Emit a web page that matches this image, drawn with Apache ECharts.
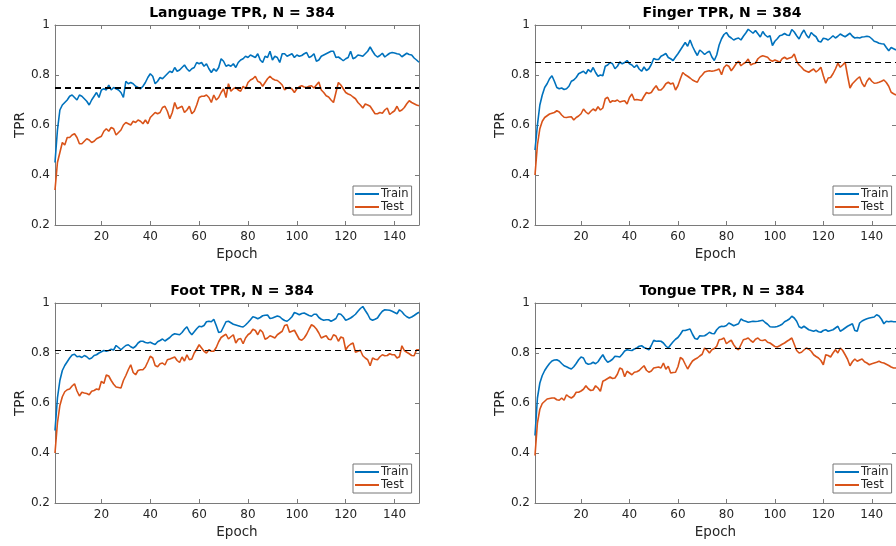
<!DOCTYPE html>
<html>
<head>
<meta charset="utf-8">
<script src="https://cdn.jsdelivr.net/npm/echarts@6/dist/echarts.min.js"></script>
<style>
  html, body { margin: 0; padding: 0; background: #fff; }
  #main { width: 896px; height: 546px; }
</style>
</head>
<body>
<div id="main"></div>
<script>
// tick labels
var xTicks = [20, 40, 60, 80, 100, 120, 140];
var yTicks = [0.2, 0.4, 0.6, 0.8, 1];
var panelNames = ['Language', 'Finger', 'Foot', 'Tongue'];
var baseline = [0.75, 0.85, 0.81, 0.82];

// TPR per epoch (1..150)
var languageTrain = [
  0.45, 0.58, 0.66, 0.68, 0.69, 0.70, 0.715, 0.72, 0.71, 0.70,
  0.72, 0.715, 0.705, 0.695, 0.68, 0.70, 0.715, 0.73, 0.71, 0.74,
  0.745, 0.74, 0.76, 0.74, 0.75, 0.745, 0.74, 0.73, 0.71, 0.775,
  0.765, 0.77, 0.765, 0.755, 0.75, 0.745, 0.755, 0.77, 0.79, 0.805,
  0.795, 0.765, 0.775, 0.79, 0.785, 0.795, 0.805, 0.815, 0.81, 0.83,
  0.815, 0.82, 0.83, 0.84, 0.825, 0.815, 0.825, 0.83, 0.85, 0.845,
  0.85, 0.835, 0.845, 0.825, 0.81, 0.825, 0.815, 0.83, 0.865, 0.855,
  0.835, 0.84, 0.835, 0.845, 0.83, 0.85, 0.86, 0.865, 0.875, 0.87,
  0.88, 0.875, 0.87, 0.885, 0.86, 0.85, 0.875, 0.87, 0.895, 0.86,
  0.875, 0.87, 0.85, 0.885, 0.885, 0.875, 0.88, 0.885, 0.87, 0.88,
  0.875, 0.878, 0.885, 0.89, 0.87, 0.875, 0.885, 0.855, 0.86, 0.875,
  0.88, 0.885, 0.89, 0.895, 0.895, 0.87, 0.872, 0.865, 0.857, 0.865,
  0.87, 0.895, 0.865, 0.87, 0.88, 0.878, 0.875, 0.885, 0.895, 0.912,
  0.895, 0.88, 0.872, 0.878, 0.887, 0.872, 0.88, 0.887, 0.89, 0.888,
  0.885, 0.883, 0.873, 0.88, 0.887, 0.882, 0.88, 0.868, 0.86, 0.851
];
var languageTest = [
  0.34, 0.45, 0.49, 0.53, 0.52, 0.55, 0.55, 0.56, 0.565, 0.55,
  0.525, 0.525, 0.535, 0.545, 0.54, 0.53, 0.535, 0.545, 0.55, 0.555,
  0.575, 0.585, 0.575, 0.59, 0.585, 0.56, 0.57, 0.58, 0.60, 0.61,
  0.605, 0.60, 0.615, 0.61, 0.62, 0.615, 0.605, 0.62, 0.605, 0.63,
  0.64, 0.65, 0.645, 0.65, 0.67, 0.675, 0.655, 0.625, 0.65, 0.69,
  0.665, 0.67, 0.675, 0.65, 0.66, 0.675, 0.645, 0.655, 0.68, 0.71,
  0.715, 0.715, 0.72, 0.71, 0.69, 0.72, 0.70, 0.71, 0.73, 0.745,
  0.71, 0.765, 0.735, 0.745, 0.75, 0.74, 0.735, 0.755, 0.745, 0.77,
  0.78, 0.785, 0.795, 0.775, 0.77, 0.755, 0.77, 0.785, 0.795, 0.785,
  0.78, 0.778, 0.77, 0.76, 0.74, 0.748, 0.75, 0.744, 0.73, 0.745,
  0.753, 0.757, 0.752, 0.75, 0.755, 0.757, 0.748, 0.76, 0.772, 0.74,
  0.73, 0.717, 0.712, 0.70, 0.69, 0.73, 0.77, 0.76, 0.745, 0.73,
  0.724, 0.72, 0.712, 0.705, 0.69, 0.68, 0.668, 0.684, 0.68, 0.675,
  0.66, 0.645, 0.645, 0.65, 0.647, 0.66, 0.668, 0.642, 0.65, 0.657,
  0.675, 0.655, 0.66, 0.67, 0.685, 0.697, 0.69, 0.685, 0.68, 0.677
];
var fingerTrain = [
  0.50, 0.60, 0.68, 0.72, 0.75, 0.765, 0.785, 0.797, 0.775, 0.75,
  0.745, 0.748, 0.742, 0.745, 0.755, 0.775, 0.78, 0.79, 0.805, 0.81,
  0.815, 0.805, 0.822, 0.812, 0.83, 0.81, 0.795, 0.80, 0.797, 0.835,
  0.84, 0.85, 0.845, 0.825, 0.835, 0.852, 0.845, 0.85, 0.858, 0.845,
  0.84, 0.83, 0.84, 0.824, 0.815, 0.832, 0.818, 0.825, 0.842, 0.866,
  0.862, 0.862, 0.875, 0.88, 0.886, 0.87, 0.865, 0.858, 0.872, 0.885,
  0.90, 0.915, 0.93, 0.915, 0.94, 0.915, 0.895, 0.878, 0.90, 0.892,
  0.882, 0.89, 0.895, 0.872, 0.858, 0.88, 0.92, 0.945, 0.962, 0.97,
  0.955, 0.948, 0.94, 0.945, 0.948, 0.94, 0.955, 0.968, 0.983, 0.975,
  0.967, 0.978, 0.965, 0.952, 0.974, 0.96, 0.952, 0.957, 0.918, 0.935,
  0.945, 0.957, 0.96, 0.966, 0.96, 0.958, 0.982, 0.972, 0.957, 0.944,
  0.965, 0.98, 0.96, 0.948, 0.97, 0.96, 0.953, 0.935, 0.932, 0.947,
  0.945, 0.94, 0.948, 0.957, 0.948, 0.955, 0.964, 0.958, 0.953, 0.96,
  0.967, 0.955, 0.948, 0.95, 0.948, 0.952, 0.953, 0.955, 0.953, 0.945,
  0.935, 0.932, 0.927, 0.925, 0.924, 0.91, 0.897, 0.91, 0.905, 0.90
];
var fingerTest = [
  0.40, 0.52, 0.585, 0.615, 0.63, 0.637, 0.644, 0.647, 0.65, 0.657,
  0.652, 0.64, 0.631, 0.63, 0.632, 0.633, 0.62, 0.63, 0.636, 0.645,
  0.664, 0.652, 0.644, 0.655, 0.664, 0.657, 0.673, 0.66, 0.668, 0.705,
  0.711, 0.69, 0.697, 0.695, 0.70, 0.692, 0.695, 0.697, 0.684, 0.71,
  0.724, 0.70, 0.702, 0.70, 0.698, 0.715, 0.73, 0.726, 0.73, 0.745,
  0.757, 0.74, 0.74, 0.75, 0.765, 0.771, 0.764, 0.768, 0.74, 0.757,
  0.785, 0.81, 0.801, 0.795, 0.788, 0.78, 0.775, 0.771, 0.79, 0.80,
  0.812, 0.815, 0.817, 0.815, 0.817, 0.82, 0.824, 0.801, 0.83, 0.84,
  0.835, 0.817, 0.83, 0.845, 0.855, 0.837, 0.845, 0.851, 0.864, 0.84,
  0.845, 0.847, 0.865, 0.873, 0.877, 0.874, 0.871, 0.86, 0.855, 0.86,
  0.856, 0.851, 0.865, 0.871, 0.864, 0.868, 0.871, 0.884, 0.855, 0.84,
  0.831, 0.82, 0.815, 0.811, 0.818, 0.824, 0.812, 0.82, 0.831, 0.797,
  0.767, 0.788, 0.79, 0.805, 0.824, 0.847, 0.831, 0.84, 0.851, 0.797,
  0.748, 0.765, 0.775, 0.785, 0.793, 0.767, 0.753, 0.775, 0.788, 0.775,
  0.767, 0.768, 0.771, 0.775, 0.78, 0.77, 0.755, 0.731, 0.725, 0.72
];
var footTrain = [
  0.49, 0.62, 0.69, 0.73, 0.75, 0.765, 0.78, 0.792, 0.795, 0.785,
  0.787, 0.782, 0.79, 0.785, 0.776, 0.78, 0.79, 0.793, 0.80, 0.805,
  0.81, 0.807, 0.81, 0.815, 0.812, 0.83, 0.822, 0.813, 0.822, 0.83,
  0.833, 0.825, 0.82, 0.827, 0.84, 0.847, 0.847, 0.842, 0.84, 0.843,
  0.838, 0.834, 0.845, 0.85, 0.856, 0.848, 0.855, 0.862, 0.872, 0.877,
  0.875, 0.873, 0.882, 0.895, 0.905, 0.885, 0.873, 0.885, 0.897, 0.907,
  0.905, 0.91, 0.925, 0.927, 0.925, 0.935, 0.91, 0.882, 0.885, 0.905,
  0.925, 0.927, 0.921, 0.915, 0.912, 0.909, 0.906, 0.904, 0.912, 0.922,
  0.933, 0.945, 0.942, 0.937, 0.942, 0.949, 0.951, 0.952, 0.938, 0.94,
  0.944, 0.948, 0.945, 0.936, 0.93, 0.927, 0.935, 0.945, 0.962, 0.958,
  0.953, 0.958, 0.96, 0.955, 0.95, 0.947, 0.955, 0.955, 0.942, 0.935,
  0.931, 0.933, 0.933, 0.927, 0.932, 0.938, 0.957, 0.955, 0.945, 0.931,
  0.935, 0.94, 0.947, 0.955, 0.967, 0.978, 0.986, 0.97, 0.955, 0.936,
  0.931, 0.935, 0.94, 0.955, 0.967, 0.973, 0.972, 0.971, 0.967, 0.962,
  0.957, 0.973, 0.965, 0.953, 0.945, 0.94, 0.944, 0.95, 0.957, 0.963
];
var footTest = [
  0.40, 0.52, 0.59, 0.625, 0.645, 0.653, 0.656, 0.668, 0.677, 0.648,
  0.628, 0.643, 0.64, 0.638, 0.633, 0.647, 0.65, 0.656, 0.653, 0.687,
  0.678, 0.712, 0.708, 0.69, 0.675, 0.664, 0.662, 0.66, 0.69, 0.71,
  0.733, 0.753, 0.722, 0.713, 0.73, 0.733, 0.733, 0.744, 0.765, 0.787,
  0.78, 0.75, 0.745, 0.757, 0.76, 0.752, 0.773, 0.776, 0.78, 0.784,
  0.77, 0.762, 0.784, 0.768, 0.793, 0.773, 0.776, 0.80, 0.815, 0.833,
  0.82, 0.807, 0.80, 0.813, 0.807, 0.807, 0.822, 0.845, 0.862, 0.869,
  0.875, 0.856, 0.865, 0.873, 0.84, 0.855, 0.858, 0.837, 0.86, 0.873,
  0.88, 0.895, 0.89, 0.873, 0.893, 0.883, 0.855, 0.86, 0.869, 0.865,
  0.86, 0.873, 0.88, 0.887, 0.91, 0.913, 0.883, 0.887, 0.891, 0.873,
  0.855, 0.851, 0.86, 0.875, 0.895, 0.913, 0.907, 0.896, 0.88, 0.86,
  0.865, 0.869, 0.855, 0.853, 0.873, 0.868, 0.847, 0.864, 0.86, 0.813,
  0.827, 0.835, 0.84, 0.803, 0.807, 0.811, 0.789, 0.78, 0.773, 0.749,
  0.78, 0.775, 0.773, 0.785, 0.793, 0.789, 0.79, 0.797, 0.793, 0.793,
  0.78, 0.785, 0.829, 0.81, 0.803, 0.797, 0.79, 0.789, 0.813, 0.813
];
var tongueTrain = [
  0.47, 0.62, 0.68, 0.71, 0.73, 0.745, 0.758, 0.768, 0.772, 0.773,
  0.768, 0.758, 0.749, 0.745, 0.74, 0.736, 0.745, 0.758, 0.773, 0.784,
  0.78, 0.76, 0.755, 0.757, 0.763, 0.757, 0.765, 0.78, 0.793, 0.775,
  0.763, 0.768, 0.775, 0.787, 0.786, 0.784, 0.795, 0.808, 0.813, 0.811,
  0.81, 0.816, 0.82, 0.827, 0.829, 0.822, 0.818, 0.813, 0.83, 0.851,
  0.847, 0.848, 0.847, 0.84, 0.828, 0.82, 0.833, 0.845, 0.855, 0.862,
  0.875, 0.89, 0.89, 0.893, 0.896, 0.875, 0.858, 0.855, 0.869, 0.868,
  0.869, 0.875, 0.883, 0.878, 0.877, 0.893, 0.903, 0.907, 0.906, 0.91,
  0.92, 0.915, 0.909, 0.913, 0.917, 0.936, 0.93, 0.927, 0.923, 0.925,
  0.927, 0.926, 0.927, 0.929, 0.931, 0.922, 0.915, 0.905, 0.904, 0.904,
  0.906, 0.91, 0.915, 0.925, 0.93, 0.936, 0.947, 0.94, 0.927, 0.905,
  0.90, 0.907, 0.90, 0.893, 0.89, 0.887, 0.891, 0.885, 0.883, 0.89,
  0.893, 0.887, 0.89, 0.893, 0.90, 0.907, 0.887, 0.893, 0.90, 0.907,
  0.912, 0.917, 0.89, 0.887, 0.92, 0.928, 0.933, 0.937, 0.94, 0.942,
  0.944, 0.953, 0.948, 0.935, 0.917, 0.927, 0.925, 0.927, 0.925, 0.925
];
var tongueTest = [
  0.39, 0.52, 0.575, 0.598, 0.607, 0.616, 0.618, 0.62, 0.62, 0.613,
  0.611, 0.62, 0.611, 0.633, 0.625, 0.62, 0.627, 0.643, 0.643, 0.648,
  0.655, 0.669, 0.657, 0.65, 0.652, 0.669, 0.66, 0.647, 0.687, 0.692,
  0.698, 0.704, 0.698, 0.70, 0.715, 0.74, 0.735, 0.705, 0.727, 0.72,
  0.713, 0.723, 0.725, 0.73, 0.74, 0.749, 0.731, 0.723, 0.728, 0.74,
  0.742, 0.744, 0.74, 0.76, 0.735, 0.747, 0.72, 0.722, 0.723, 0.745,
  0.782, 0.775, 0.755, 0.736, 0.753, 0.768, 0.775, 0.78, 0.788, 0.795,
  0.82, 0.812, 0.80, 0.813, 0.818, 0.827, 0.853, 0.855, 0.86, 0.837,
  0.845, 0.851, 0.833, 0.82, 0.813, 0.833, 0.853, 0.856, 0.86, 0.85,
  0.843, 0.855, 0.86, 0.851, 0.85, 0.853, 0.843, 0.84, 0.833, 0.826,
  0.824, 0.829, 0.835, 0.84, 0.847, 0.853, 0.86, 0.835, 0.81, 0.80,
  0.803, 0.812, 0.82, 0.815, 0.807, 0.793, 0.786, 0.78, 0.77, 0.753,
  0.793, 0.79, 0.784, 0.80, 0.813, 0.80, 0.82, 0.81, 0.793, 0.775,
  0.749, 0.765, 0.776, 0.767, 0.772, 0.776, 0.765, 0.76, 0.753, 0.757,
  0.76, 0.763, 0.767, 0.762, 0.76, 0.755, 0.75, 0.744, 0.74, 0.74
];

var trainData = [languageTrain, fingerTrain, footTrain, tongueTrain];
var testData = [languageTest, fingerTest, footTest, tongueTest];

var chart = echarts.init(document.getElementById('main'));

var font = 'DejaVu Sans';
var boxColor = '#7a7a7a';
var textColor = '#262626';
var blue = '#0072BD';
var orange = '#D95319';

// panel placement: left column / right column, top row / bottom row
var lefts = [55, 535, 55, 535];
var tops = [25, 25, 303, 303];
var plotW = 364, plotH = 200;

function pairs(arr) {
  return arr.map(function (v, i) { return [i + 1, v]; });
}

var grid = [], xAxis = [], yAxis = [], series = [], title = [], legend = [];

for (var i = 0; i < 4; i++) {
  grid.push({ left: lefts[i], top: tops[i], width: plotW, height: plotH, containLabel: false });

  var line = { show: true, onZero: false, lineStyle: { color: boxColor, width: 1 } };
  var tickX = { show: true, inside: true, length: 4, customValues: xTicks, lineStyle: { color: boxColor } };
  var tickY = { show: true, inside: true, length: 4, customValues: yTicks, lineStyle: { color: boxColor } };

  xAxis.push({
    type: 'value', gridIndex: i, min: 1, max: 150, position: 'bottom',
    name: 'Epoch', nameLocation: 'middle', nameGap: 22,
    nameTextStyle: { fontSize: 13.5, color: textColor, fontFamily: font },
    axisLine: line, axisTick: tickX,
    axisLabel: { customValues: xTicks, margin: 6, fontSize: 12, color: textColor, fontFamily: font },
    splitLine: { show: false }
  });
  xAxis.push({
    type: 'value', gridIndex: i, min: 1, max: 150, position: 'top',
    axisLine: line, axisTick: tickX, axisLabel: { show: false }, splitLine: { show: false }
  });
  yAxis.push({
    type: 'value', gridIndex: i, min: 0.2, max: 1, interval: 0.2, position: 'left',
    name: 'TPR', nameLocation: 'middle', nameGap: 28,
    nameTextStyle: { fontSize: 13.5, color: textColor, fontFamily: font },
    axisLine: line, axisTick: tickY,
    axisLabel: {
      customValues: yTicks, margin: 5, fontSize: 12, color: textColor, fontFamily: font,
      formatter: function (v) { return String(+v.toFixed(1)); }
    },
    splitLine: { show: false }
  });
  yAxis.push({
    type: 'value', gridIndex: i, min: 0.2, max: 1, interval: 0.2, position: 'right',
    axisLine: line, axisTick: tickY, axisLabel: { show: false }, splitLine: { show: false }
  });

  series.push({
    name: 'Train', type: 'line', xAxisIndex: 2 * i, yAxisIndex: 2 * i,
    data: pairs(trainData[i]), symbol: 'none', color: blue,
    lineStyle: { color: blue, width: 1.6 }
  });
  series.push({
    name: 'Test', type: 'line', xAxisIndex: 2 * i, yAxisIndex: 2 * i,
    data: pairs(testData[i]), symbol: 'none', color: orange,
    lineStyle: { color: orange, width: 1.6 },
    markLine: {
      silent: true, symbol: 'none', label: { show: false },
      lineStyle: { color: '#000', type: [6, 4], width: i === 0 ? 1.8 : 1.2 },
      data: [{ yAxis: baseline[i] }]
    }
  });

  title.push({
    text: panelNames[i] + ' TPR, N = 384',
    left: lefts[i] + plotW / 2, top: tops[i] - 24, textAlign: 'center',
    textStyle: { fontSize: 14, fontWeight: 'bold', color: '#000', fontFamily: font }
  });

  legend.push({
    orient: 'vertical', left: lefts[i] + 298, top: tops[i] + 161,
    data: ['Train', 'Test'], icon: 'rect', itemWidth: 24, itemHeight: 2, itemGap: 1,
    padding: [2, 3, 2, 2], backgroundColor: '#fff', borderColor: '#777', borderWidth: 1,
    textStyle: { fontSize: 11.5, color: textColor, fontFamily: font, padding: [0, 0, 0, -3] },
    selectedMode: false
  });
}

chart.setOption({
  animation: false,
  title: title,
  legend: legend,
  grid: grid,
  xAxis: xAxis,
  yAxis: yAxis,
  series: series
});
</script>
</body>
</html>
